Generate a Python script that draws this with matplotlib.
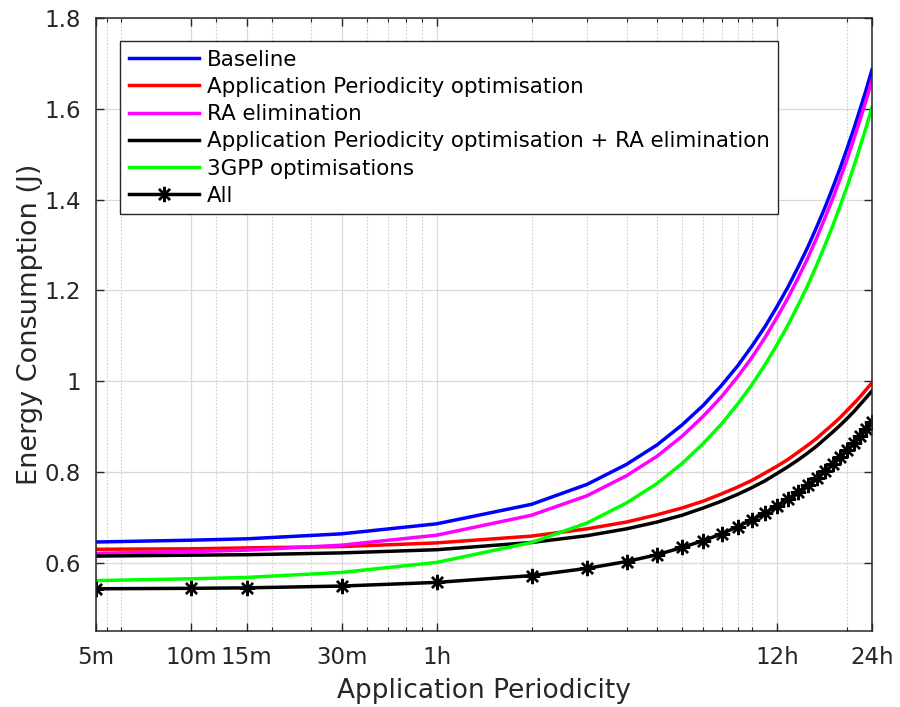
import matplotlib
matplotlib.use("Agg")
import matplotlib.pyplot as plt
from matplotlib.ticker import FixedLocator, NullFormatter

# Application periodicity in hours: 5m, 10m, 15m, 30m, then 1h .. 24h
periods_h = [5 / 60, 10 / 60, 15 / 60, 30 / 60] + list(range(1, 25))

baseline = [0.646, 0.650, 0.653, 0.664, 0.686, 0.729, 0.773, 0.817, 0.860, 0.904,
            0.947, 0.991, 1.034, 1.078, 1.121, 1.165, 1.208, 1.252, 1.295, 1.339,
            1.382, 1.426, 1.469, 1.513, 1.556, 1.600, 1.643, 1.687]
app_period_opt = [0.630, 0.631, 0.633, 0.636, 0.644, 0.659, 0.675, 0.690, 0.706, 0.721,
                  0.736, 0.752, 0.767, 0.782, 0.798, 0.813, 0.828, 0.844, 0.859, 0.874,
                  0.890, 0.905, 0.920, 0.936, 0.951, 0.966, 0.982, 0.997]
ra_elim = [0.621, 0.625, 0.628, 0.639, 0.661, 0.705, 0.748, 0.792, 0.835, 0.879,
           0.923, 0.966, 1.010, 1.053, 1.097, 1.141, 1.184, 1.228, 1.271, 1.315,
           1.359, 1.402, 1.446, 1.489, 1.533, 1.577, 1.620, 1.664]
app_period_ra = [0.615, 0.617, 0.618, 0.622, 0.629, 0.645, 0.660, 0.675, 0.690, 0.705,
                 0.721, 0.736, 0.751, 0.766, 0.781, 0.797, 0.812, 0.827, 0.842, 0.857,
                 0.873, 0.888, 0.903, 0.918, 0.933, 0.949, 0.964, 0.979]
gpp_opt = [0.561, 0.565, 0.568, 0.579, 0.601, 0.645, 0.688, 0.732, 0.775, 0.819,
           0.863, 0.906, 0.950, 0.993, 1.037, 1.081, 1.124, 1.168, 1.211, 1.255,
           1.299, 1.342, 1.386, 1.429, 1.473, 1.517, 1.560, 1.604]
all_opt = [0.543, 0.544, 0.545, 0.549, 0.557, 0.572, 0.588, 0.603, 0.618, 0.634,
           0.649, 0.664, 0.680, 0.695, 0.710, 0.726, 0.741, 0.756, 0.772, 0.787,
           0.802, 0.818, 0.833, 0.848, 0.864, 0.879, 0.894, 0.910]

series_labels = ["Baseline", "Application Periodicity optimisation", "RA elimination",
                 "Application Periodicity optimisation + RA elimination",
                 "3GPP optimisations", "All"]

xtick_values = [5 / 60, 10 / 60, 15 / 60, 30 / 60, 1, 12, 24]
xtick_labels = ["5m", "10m", "15m", "30m", "1h", "12h", "24h"]
minor_values = [0.09] + [k / 10 for k in range(1, 10)] + list(range(1, 11)) + [20]

plt.rcParams["font.family"] = "DejaVu Sans"
fig = plt.figure(figsize=(9.0, 7.07), dpi=100)
ax = fig.add_axes([0.1067, 0.1075, 0.8623, 0.867])

lw = 2.5
ax.plot(periods_h, baseline, color="#0000ff", lw=lw, label=series_labels[0])
ax.plot(periods_h, app_period_opt, color="#ff0000", lw=lw, label=series_labels[1])
ax.plot(periods_h, ra_elim, color="#ff00ff", lw=lw, label=series_labels[2])
ax.plot(periods_h, app_period_ra, color="#000000", lw=lw, label=series_labels[3])
ax.plot(periods_h, gpp_opt, color="#00ff00", lw=lw, label=series_labels[4])
ax.plot(periods_h, all_opt, color="#000000", lw=lw, marker=(8, 2, 0),
        markersize=11, markeredgewidth=1.7, label=series_labels[5])

ax.set_xscale("log")
ax.set_xlim(5 / 60, 24)
ax.set_ylim(0.45, 1.8)

ax.xaxis.set_major_locator(FixedLocator(xtick_values))
ax.set_xticklabels(xtick_labels)
ax.xaxis.set_minor_locator(FixedLocator(minor_values))
ax.xaxis.set_minor_formatter(NullFormatter())
ax.set_yticks([0.6, 0.8, 1.0, 1.2, 1.4, 1.6, 1.8])
ax.set_yticklabels(["0.6", "0.8", "1", "1.2", "1.4", "1.6", "1.8"])

ax.grid(True, which="major", color="#d9d9d9", lw=0.9, ls="-")
ax.grid(True, which="minor", axis="x", color="#cfcfcf", lw=0.8, ls=(0, (1.5, 1.5)))
ax.set_axisbelow(True)

dark = "#262626"
for sp in ax.spines.values():
    sp.set_color(dark)
    sp.set_linewidth(1.1)
ax.tick_params(which="both", direction="in", top=True, right=True, colors=dark,
               labelsize=16.5)
ax.tick_params(axis="x", pad=11)
ax.tick_params(axis="y", pad=11)
ax.tick_params(which="major", length=6, width=1.0)
ax.tick_params(which="minor", length=3, width=0.8)

ax.set_xlabel("Application Periodicity", fontsize=19, color=dark, labelpad=6)
ax.set_ylabel("Energy Consumption (J)", fontsize=19.5, color=dark, labelpad=1)

leg = ax.legend(loc="upper left", bbox_to_anchor=(0.031, 0.9625), borderaxespad=0,
                fontsize=15.4, frameon=True, fancybox=False, handlelength=3.3,
                handletextpad=0.35, labelspacing=0.34, borderpad=0.4)
leg.get_frame().set_edgecolor(dark)
leg.get_frame().set_linewidth(1.0)
leg.get_frame().set_alpha(1.0)

fig.savefig("out.png", dpi=100)
